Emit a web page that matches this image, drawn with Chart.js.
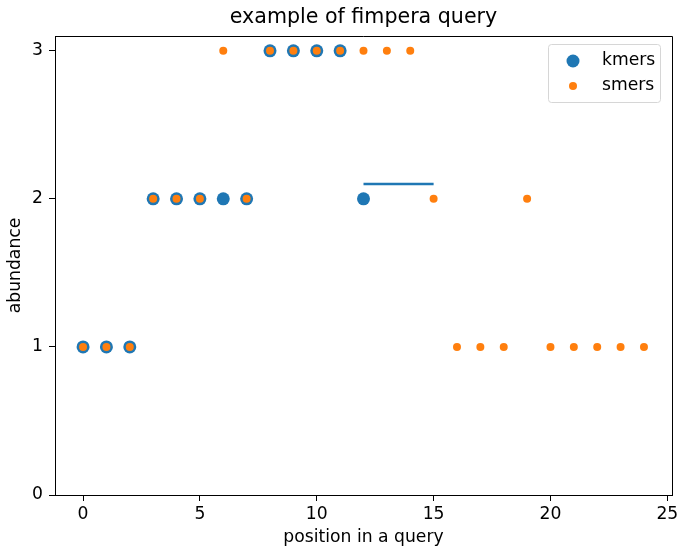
<!DOCTYPE html>
<html>
<head>
<meta charset="utf-8">
<script src="https://cdn.jsdelivr.net/npm/chart.js@4"></script>
<style>
  html, body { margin: 0; padding: 0; background: #fff; }
  #wrap { width: 679px; height: 549px; }
</style>
</head>
<body>
<div id="wrap"><canvas id="c" width="679" height="549"></canvas></div>
<script>
// k-mer abundances along the query
const kmerPos = [0, 1, 2, 3, 4, 5, 6, 7, 8, 9, 10, 11, 12];
const kmerAbund = [1, 1, 1, 2, 2, 2, 2, 2, 3, 3, 3, 3, 2];

// s-mer abundances along the query
const smerPos = [0, 1, 2, 3, 4, 5, 6, 7, 8, 9, 10, 11, 12, 13, 14, 15, 16, 17, 18, 19, 20, 21, 22, 23, 24];
const smerAbund = [1, 1, 1, 2, 2, 2, 3, 2, 3, 3, 3, 3, 3, 3, 3, 2, 1, 1, 1, 2, 1, 1, 1, 1, 1];

// segment covered by the last k-mer
const spanX = [12, 15];
const spanY = [2.1, 2.1];

const xTicks = [0, 5, 10, 15, 20, 25];
const yTicks = [0, 1, 2, 3];

const BLUE = '#1f77b4';
const ORANGE = '#ff7f0e';
const FONT = 'DejaVu Sans';
const TICK_SIZE = 17.2;
const TITLE_SIZE = 20.6;

const toPoints = (xs, ys) => xs.map((x, i) => ({ x: x, y: ys[i] }));

// axes frame (top/right spines) and in-plot legend
const framePlugin = {
  id: 'frame',
  afterDraw(chart) {
    const ctx = chart.ctx;
    const a = chart.chartArea;
    ctx.save();
    ctx.strokeStyle = '#000';
    ctx.lineWidth = 1;
    ctx.beginPath();
    ctx.moveTo(a.left, a.top + 0.5);
    ctx.lineTo(a.right + 0.5, a.top + 0.5);
    ctx.lineTo(a.right + 0.5, a.bottom);
    ctx.stroke();

    // legend box
    const bx = 548.5, by = 44.5, bw = 112, bh = 58, r = 3;
    ctx.beginPath();
    ctx.moveTo(bx + r, by);
    ctx.lineTo(bx + bw - r, by);
    ctx.arcTo(bx + bw, by, bx + bw, by + r, r);
    ctx.lineTo(bx + bw, by + bh - r);
    ctx.arcTo(bx + bw, by + bh, bx + bw - r, by + bh, r);
    ctx.lineTo(bx + r, by + bh);
    ctx.arcTo(bx, by + bh, bx, by + bh - r, r);
    ctx.lineTo(bx, by + r);
    ctx.arcTo(bx, by, bx + r, by, r);
    ctx.closePath();
    ctx.fillStyle = 'rgba(255,255,255,0.8)';
    ctx.fill();
    ctx.strokeStyle = '#d6d6d6';
    ctx.stroke();

    const entries = [
      { label: 'kmers', color: BLUE, rad: 6.5, y: 61 },
      { label: 'smers', color: ORANGE, rad: 4, y: 86 }
    ];
    ctx.font = TICK_SIZE + 'px "' + FONT + '"';
    ctx.textBaseline = 'middle';
    ctx.textAlign = 'left';
    entries.forEach(e => {
      ctx.beginPath();
      ctx.arc(573, e.y, e.rad, 0, Math.PI * 2);
      ctx.fillStyle = e.color;
      ctx.fill();
      ctx.fillStyle = '#000';
      ctx.fillText(e.label, 602, e.y);
    });
    ctx.restore();
  }
};

new Chart(document.getElementById('c'), {
  type: 'scatter',
  data: {
    datasets: [
      {
        label: 'smers',
        data: toPoints(smerPos, smerAbund),
        backgroundColor: ORANGE,
        borderWidth: 0,
        pointRadius: 4,
        order: 0
      },
      {
        label: 'kmers',
        data: toPoints(kmerPos, kmerAbund),
        backgroundColor: BLUE,
        borderWidth: 0,
        pointRadius: 6.5,
        order: 1
      },
      {
        type: 'line',
        label: 'span',
        data: toPoints(spanX, spanY),
        borderColor: BLUE,
        borderWidth: 2.5,
        pointRadius: 0,
        showLine: true,
        fill: false,
        order: 2
      }
    ]
  },
  options: {
    responsive: false,
    animation: false,
    devicePixelRatio: 1,
    layout: { padding: { top: 36, right: 7, left: 0, bottom: 0 } },
    plugins: {
      legend: { display: false },
      tooltip: { enabled: false },
      title: { display: false }
    },
    scales: {
      x: {
        type: 'linear',
        min: -1.2,
        max: 25.2,
        afterBuildTicks: s => { s.ticks = xTicks.map(v => ({ value: v })); },
        afterFit: s => { s.height = 54; s.paddingLeft = 0; s.paddingRight = 0; },
        grid: { display: true, drawOnChartArea: false, drawTicks: true, tickLength: 6, color: '#000', tickColor: '#000' },
        border: { display: true, color: '#000', width: 1 },
        ticks: { color: '#000', font: { family: FONT, size: TICK_SIZE }, padding: 3, maxRotation: 0, autoSkip: false },
        title: { display: true, text: 'position in a query', color: '#000', font: { family: FONT, size: TICK_SIZE }, padding: { top: 0, bottom: 1 } }
      },
      y: {
        type: 'linear',
        min: 0,
        max: 3.1,
        afterBuildTicks: s => { s.ticks = yTicks.map(v => ({ value: v })); },
        afterFit: s => { s.width = 55; s.paddingTop = 0; s.paddingBottom = 0; },
        grid: { display: true, drawOnChartArea: false, drawTicks: true, tickLength: 6, color: '#000', tickColor: '#000' },
        border: { display: true, color: '#000', width: 1 },
        ticks: { color: '#000', font: { family: FONT, size: TICK_SIZE }, padding: 6, autoSkip: false },
        title: { display: true, text: 'abundance', color: '#000', font: { family: FONT, size: TICK_SIZE }, padding: { top: 5, bottom: 0 } }
      }
    }
  },
  plugins: [framePlugin, {
    id: 'plotTitle',
    afterDraw(chart) {
      const ctx = chart.ctx;
      const a = chart.chartArea;
      ctx.save();
      ctx.font = TITLE_SIZE + 'px "' + FONT + '"';
      ctx.fillStyle = '#000';
      ctx.textAlign = 'center';
      ctx.textBaseline = 'middle';
      ctx.fillText('example of fimpera query', (a.left + a.right) / 2, 18);
      ctx.restore();
    }
  }]
});
</script>
</body>
</html>
